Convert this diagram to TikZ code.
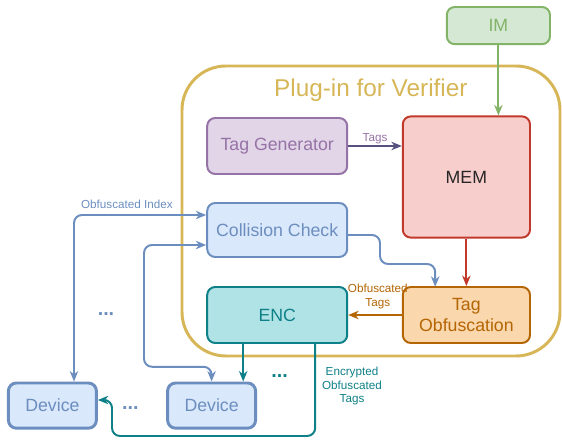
\documentclass[tikz,border=0pt]{standalone}
\usepackage{fontspec}
\setmainfont{Liberation Sans}
\usetikzlibrary{arrows.meta,positioning,calc}

\definecolor{imfill}{HTML}{D5E8D4}
\definecolor{imline}{HTML}{82B366}
\definecolor{plugline}{HTML}{D6B656}
\definecolor{genfill}{HTML}{E1D5E7}
\definecolor{genline}{HTML}{9673A6}
\definecolor{blfill}{HTML}{DAE8FC}
\definecolor{blline}{HTML}{6C8EBF}
\definecolor{memfill}{HTML}{F8CECC}
\definecolor{memline}{HTML}{C0392B}
\definecolor{obffill}{HTML}{FAD7AC}
\definecolor{obfline}{HTML}{B46504}
\definecolor{encfill}{HTML}{B0E3E6}
\definecolor{encline}{HTML}{0E8088}
\definecolor{tagline}{HTML}{56517E}

\begin{document}
\begin{tikzpicture}[
    box/.style={draw, rounded corners=0.2cm, line width=1.4pt, align=center, inner sep=0pt,
      font=\fontsize{12.6}{14.5}\selectfont, minimum width=3.5cm, minimum height=1.4cm},
    device/.style={box, line width=2.1pt, minimum width=2.2cm, minimum height=1.13cm,
      fill=blfill, draw=blline, text=blline},
    link/.style={-{Stealth[length=2.6mm,width=2.1mm,inset=0.8mm]}, line width=1.4pt, rounded corners=0.2cm},
    twoway/.style={link, {Stealth[length=2.6mm,width=2.1mm,inset=0.8mm]}-{Stealth[length=2.6mm,width=2.1mm,inset=0.8mm]}},
    lbl/.style={font=\fontsize{8.3}{9.7}\selectfont, align=center, inner sep=1pt},
    dots/.style={font=\bfseries\fontsize{14}{15}\selectfont, inner sep=0pt}
  ]
    \useasboundingbox (0,0) rectangle (14.05,11);

    % verifier plug-in frame
    \draw[plugline, line width=2.1pt, rounded corners=1.1cm] (4.55,2.1) rectangle (14.0,9.35);
    \node[text=plugline, font=\fontsize{17.3}{20}\selectfont] (title) at (9.27,8.75) {Plug-in for Verifier};

    \node[box, fill=imfill, draw=imline, text=imline, minimum width=2.58cm, minimum height=0.93cm] (im) at (12.46,10.36) {IM};

    \node[box, fill=genfill, draw=genline, text=genline] (gen) at (6.93,7.35) {Tag Generator};
    \node[box, fill=blfill, draw=blline, text=blline, minimum height=1.35cm] (cc) at (6.93,5.25) {Collision Check};
    \node[box, fill=encfill, draw=encline, text=encline] (enc) at (6.93,3.125) {ENC};

    \node[box, fill=memfill, draw=memline, text=black!85, minimum width=3.18cm, minimum height=3.03cm] (mem) at (11.66,6.575) {MEM};
    \node[box, fill=obffill, draw=obfline, text=obfline, minimum width=3.18cm] (obf) at (11.66,3.125) {Tag\\Obfuscation};

    \node[device] (dev1) at (1.31,0.86) {Device};
    \node[device] (dev2) at (5.29,0.86) {Device};

    \node[dots, text=blline] (dotsa) at (2.65,3.15) {...};
    \node[dots, text=blline] (dotsb) at (3.26,0.8) {...};
    \node[dots, text=encline] (dotsc) at (6.99,1.6) {...};

    \draw[link, imline] (im.south) -- (im.south |- mem.north);
    \draw[link, tagline] (gen.east) -- node[lbl, above, text=genline] {Tags} (mem.west |- gen.east);
    \draw[link, memline] (mem.south) -- (obf.north);
    \draw[link, blline] ([yshift=-1.25mm]cc.east) -- (9.5,5.125) |- (10.88,4.4) -- (10.88,3.83);
    \draw[link, obfline] (obf.west) -- node[lbl, above=1mm, xshift=0.7mm, text=obfline] {Obfuscated\\Tags} (enc.east);

    \draw[twoway, blline] ([xshift=5.4mm]dev1.north) |- node[lbl, pos=0.7, above=1mm] {Obfuscated Index} ([yshift=3.75mm]cc.west);
    \draw[twoway, blline] ([yshift=-3.75mm]cc.west) -| (3.6,1.83) -| (dev2.north);

    \draw[link, encline] ([xshift=-8.5mm]enc.south) -- ([xshift=-8.5mm]enc.south |- dev2.north);
    \draw[link, encline] ([xshift=9.5mm]enc.south) |- (2.8,0.1) |- ([yshift=1.4mm]dev1.east);
    \node[lbl, text=encline] (enclbl) at (8.8,1.35) {Encrypted\\Obfuscated\\Tags};
  \end{tikzpicture}
\end{document}
